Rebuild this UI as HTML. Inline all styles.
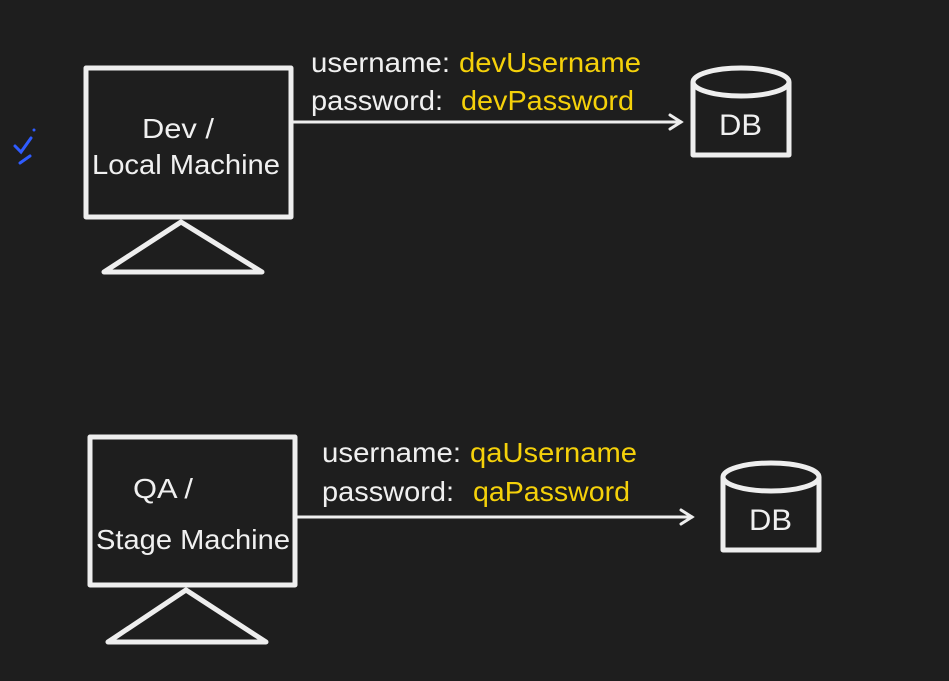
<!DOCTYPE html>
<html><head><meta charset="utf-8"><style>
html,body{margin:0;padding:0;background:#1e1e1e;}
svg{display:block}
text{font-family:"Liberation Sans",sans-serif;fill:#f0f0f0}
.y{fill:#f5d10a}
</style></head><body>
<svg width="949" height="681" viewBox="0 0 949 681" xmlns="http://www.w3.org/2000/svg">
<rect width="949" height="681" fill="#1e1e1e"/>
<g fill="none" stroke="#eeeeee" stroke-width="5" stroke-linejoin="round">
<rect x="86" y="68" width="205" height="149"/>
<polygon points="181,222 104,272 262,272"/>
<rect x="90" y="437" width="205" height="148"/>
<polygon points="186,590 108,642 266,642"/>
<path d="M693 82 V155 H789 V82"/>
<ellipse cx="741" cy="82" rx="48" ry="14"/>
<path d="M723 477 V550 H819 V477"/>
<ellipse cx="771" cy="477" rx="48" ry="14"/>
</g>
<g stroke="#eeeeee" stroke-width="3" fill="none" stroke-linecap="round">
<line x1="292" y1="122" x2="681" y2="122"/>
<polyline points="670,115 681,122 670,129"/>
<line x1="296" y1="517" x2="692" y2="517"/>
<polyline points="681,510 692,517 681,524"/>
</g>
<g fill="none" stroke="#2f5cff" stroke-width="3" stroke-linecap="round">
<path d="M15 146 L21 152 L31 138"/>
<path d="M30 156 L20 163"/>
</g>
<circle cx="34" cy="130" r="1.5" fill="#2f5cff"/>
<g font-size="28">
<text x="142" y="138" textLength="72" lengthAdjust="spacingAndGlyphs">Dev /</text>
<text x="92" y="174" textLength="188" lengthAdjust="spacingAndGlyphs">Local Machine</text>
<text x="133" y="498" textLength="60" lengthAdjust="spacingAndGlyphs">QA /</text>
<text x="96" y="549" textLength="194" lengthAdjust="spacingAndGlyphs">Stage Machine</text>
<text x="719" y="135" font-size="30" textLength="43" lengthAdjust="spacingAndGlyphs">DB</text>
<text x="749" y="530" font-size="30" textLength="43" lengthAdjust="spacingAndGlyphs">DB</text>
<text x="311" y="72" textLength="139" lengthAdjust="spacingAndGlyphs">username:</text>
<text class="y" x="459" y="72" textLength="182" lengthAdjust="spacingAndGlyphs">devUsername</text>
<text x="311" y="110" textLength="132" lengthAdjust="spacingAndGlyphs">password:</text>
<text class="y" x="461" y="110" textLength="173" lengthAdjust="spacingAndGlyphs">devPassword</text>
<text x="322" y="462" textLength="139" lengthAdjust="spacingAndGlyphs">username:</text>
<text class="y" x="470" y="462" textLength="167" lengthAdjust="spacingAndGlyphs">qaUsername</text>
<text x="322" y="501" textLength="132" lengthAdjust="spacingAndGlyphs">password:</text>
<text class="y" x="473" y="501" textLength="157" lengthAdjust="spacingAndGlyphs">qaPassword</text>
</g>
</svg>
</body></html>
